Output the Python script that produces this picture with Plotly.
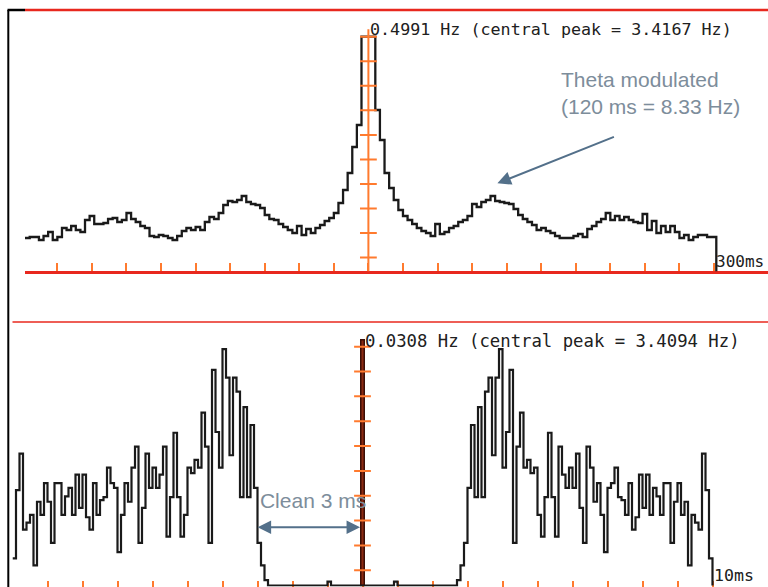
import plotly.graph_objects as go

W, H = 768, 587

# ---------------- data ----------------
# Top: autocorrelogram +-300 ms, 4 ms bins (bin centres in ms)
TOP_LAG_MS = list(range(-300, 301, 4))
TOP_RATE_HZ = [
    0.0734, 0.0734, 0.0755, 0.0755, 0.0692, 0.0776, 0.0861, 0.0692, 0.0755, 0.0945,
    0.0903, 0.0988, 0.0903, 0.0861, 0.1115, 0.1199, 0.1030, 0.1030, 0.1051, 0.1136,
    0.1157, 0.1072, 0.1115, 0.1263, 0.1136, 0.1072, 0.0988, 0.0945, 0.0776, 0.0755,
    0.0797, 0.0776, 0.0734, 0.0692, 0.0776, 0.0882, 0.0945, 0.0903, 0.0966, 0.0903,
    0.1072, 0.1178, 0.1136, 0.1263, 0.1432, 0.1516, 0.1495, 0.1537, 0.1622, 0.1495,
    0.1453, 0.1432, 0.1368, 0.1220, 0.1136, 0.1115, 0.1030, 0.0966, 0.0903, 0.0840,
    0.0988, 0.0797, 0.0924, 0.0840, 0.0945, 0.1009, 0.1093, 0.1157, 0.1263, 0.1474,
    0.1749, 0.2108, 0.2658, 0.3124, 0.4991,
    0.4991, 0.4991, 0.3441, 0.2806, 0.2108, 0.1791, 0.1537, 0.1326, 0.1199, 0.1115,
    0.1030, 0.0945, 0.0882, 0.0840, 0.0776, 0.1030, 0.0818, 0.0861, 0.0945, 0.0988,
    0.1072, 0.1115, 0.1199, 0.1453, 0.1389, 0.1495, 0.1537, 0.1622, 0.1516, 0.1495,
    0.1474, 0.1453, 0.1347, 0.1220, 0.1136, 0.1072, 0.1009, 0.0903, 0.0945, 0.0882,
    0.0840, 0.0776, 0.0734, 0.0734, 0.0734, 0.0776, 0.0818, 0.0755, 0.0924, 0.0988,
    0.1072, 0.1136, 0.1263, 0.1115, 0.1199, 0.1115, 0.1178, 0.1115, 0.1072, 0.1051,
    0.1241, 0.0903, 0.1093, 0.0840, 0.0988, 0.0861, 0.0988, 0.0861, 0.0734, 0.0797,
    0.0692, 0.0755, 0.0797, 0.0797, 0.0755, 0.0755,
]
TOP_BIN_MS = 4
TOP_MAX_HZ = 0.4991
TOP_PEAK_HZ = 3.4167
TOP_AXIS_TOP_HZ = 0.515

# Bottom: autocorrelogram +-10 ms, 0.1 ms bins (left bin edges)
BOT_BIN_MS = 0.1
BOT_START_MS = -10.0
BOT_RATE_HZ = (
    [0.0035, 0.0123, 0.0170, 0.0072, 0.0081, 0.0091, 0.0026, 0.0108, 0.0091, 0.0132,
     0.0108, 0.0055, 0.0132, 0.0132, 0.0091, 0.0115, 0.0126, 0.0091, 0.0143, 0.0100,
     0.0143, 0.0088, 0.0072, 0.0132, 0.0091, 0.0110, 0.0114, 0.0152, 0.0132, 0.0126,
     0.0043, 0.0091, 0.0132, 0.0108, 0.0152, 0.0179, 0.0055, 0.0100, 0.0170, 0.0126,
     0.0152, 0.0126, 0.0143, 0.0179, 0.0063, 0.0114, 0.0197, 0.0114, 0.0063, 0.0091,
     0.0152, 0.0145, 0.0162, 0.0152, 0.0223, 0.0179, 0.0055, 0.0278, 0.0198, 0.0152,
     0.0305, 0.0268, 0.0168, 0.0268, 0.0250, 0.0114, 0.0230, 0.0114, 0.0207, 0.0126,
     0.0055, 0.0026, 0.0007]
    + [0.0] * 17 + [0.0005] + [0.0] * 18 + [0.0005] + [0.0] * 17
    + [0.0007, 0.0026, 0.0055, 0.0126, 0.0207, 0.0114, 0.0230, 0.0114, 0.0250, 0.0268,
       0.0168, 0.0268, 0.0305, 0.0152, 0.0198, 0.0278, 0.0055, 0.0179, 0.0223, 0.0152,
       0.0162, 0.0145, 0.0152, 0.0091, 0.0063, 0.0114, 0.0197, 0.0114, 0.0063, 0.0179,
       0.0143, 0.0126, 0.0152, 0.0126, 0.0170, 0.0100, 0.0055, 0.0179, 0.0152, 0.0108,
       0.0132, 0.0091, 0.0043, 0.0126, 0.0132, 0.0152, 0.0114, 0.0110, 0.0091, 0.0132,
       0.0072, 0.0088, 0.0143, 0.0100, 0.0143, 0.0091, 0.0126, 0.0115, 0.0091, 0.0132,
       0.0132, 0.0055, 0.0108, 0.0132, 0.0091, 0.0108, 0.0026, 0.0091, 0.0081, 0.0072,
       0.0170, 0.0123, 0.0035]
)
BOT_MAX_HZ = 0.0308
BOT_PEAK_HZ = 3.4094
BOT_CENTRAL_DISPLAY_HZ = 0.0317

TOP_XTICKS_MS = [-270, -240, -210, -180, -150, -120, -90, -60, -30, 0,
                 30, 60, 90, 120, 150, 180, 210, 240, 270, 300]
BOT_XTICKS_MS = [-9, -8, -7, -6, -5, -4, -3, -2, -1, 0, 1, 2, 3, 4, 5, 6, 7, 8, 9, 10]
YTICK_FRACTIONS = [0.064, 0.168, 0.272, 0.376, 0.480, 0.584, 0.688, 0.792, 0.896, 1.0]

# ---------------- styles / geometry (pixels) ----------------
RED = "#e8281e"
ORANGE = "#ff7a2e"
TRACE = "#1a1a1a"
NOTE = "#7d8d9b"
ARROW = "#53708a"
MONO = "DejaVu Sans Mono"
SANS = "Liberation Sans"

T_CX, T_PXMS, T_Y0, T_PXHZ = 368.4, 1.152, 272.7, 236.0 / TOP_MAX_HZ
B_CX, B_PXMS, B_Y0, B_PXHZ = 362.5, 35.0, 585.5, 238.8 / BOT_MAX_HZ
T_LEFT, T_TOP = 25.0, 10.0
B_LEFT, B_TOP = 12.5, 322.0
T_AXIS_PAD = -1.5   # axis line drawn 1.5 px outside the domain edge
B_AXIS_PAD = 1.0


def px(xp):
    return xp / W


def py(yp):
    return 1 - yp / H


fig = go.Figure()

# ---- top histogram (step line) ----
half = TOP_BIN_MS / 2
tx = [c - half for c in TOP_LAG_MS] + [TOP_LAG_MS[-1] + half, TOP_LAG_MS[-1] + half]
ty = TOP_RATE_HZ + [TOP_RATE_HZ[-1], 0]
fig.add_trace(go.Scatter(x=tx, y=ty, mode="lines", line=dict(color=TRACE, width=2.3, shape="hv"),
                         xaxis="x", yaxis="y", hoverinfo="skip"))
# central axis (orange) with ticks
fig.add_trace(go.Scatter(x=[0, 0], y=[0, TOP_AXIS_TOP_HZ], mode="lines",
                         line=dict(color=ORANGE, width=2), xaxis="x", yaxis="y", hoverinfo="skip"))
fig.add_trace(go.Scatter(x=[0] * len(YTICK_FRACTIONS), y=[f * TOP_MAX_HZ for f in YTICK_FRACTIONS],
                         mode="markers", marker=dict(symbol="line-ew", size=12,
                                                     line=dict(color=ORANGE, width=2)),
                         xaxis="x", yaxis="y", hoverinfo="skip"))

# ---- bottom ----
bx0 = [BOT_START_MS + i * BOT_BIN_MS for i in range(len(BOT_RATE_HZ))]
bend = BOT_START_MS + len(BOT_RATE_HZ) * BOT_BIN_MS
fig.add_trace(go.Scatter(x=[-2.93], y=[0.0107], mode="text", text=["Clean 3 ms"],
                         textposition="middle right",
                         textfont=dict(family=SANS, size=21, color=NOTE),
                         xaxis="x2", yaxis="y2", hoverinfo="skip"))
fig.add_trace(go.Scatter(x=bx0 + [bend, bend], y=BOT_RATE_HZ + [BOT_RATE_HZ[-1], 0], mode="lines",
                         line=dict(color=TRACE, width=2.2, shape="hv"),
                         xaxis="x2", yaxis="y2", hoverinfo="skip"))
fig.add_trace(go.Bar(x=[0], y=[BOT_CENTRAL_DISPLAY_HZ], width=[BOT_BIN_MS],
                     marker=dict(color="#8a2a12", line=dict(color="#3c0e06", width=1.5)),
                     xaxis="x2", yaxis="y2", hoverinfo="skip"))
fig.add_trace(go.Scatter(x=[0] * len(YTICK_FRACTIONS), y=[f * BOT_MAX_HZ for f in YTICK_FRACTIONS],
                         mode="markers", marker=dict(symbol="line-ew", size=12,
                                                     line=dict(color=ORANGE, width=2)),
                         xaxis="x2", yaxis="y2", hoverinfo="skip"))

xcommon = dict(showline=True, linecolor=RED, linewidth=3, ticks="inside",
               tickwidth=1.5, tickcolor=ORANGE, showticklabels=False, showgrid=False,
               zeroline=False, layer="below traces", fixedrange=True)
ycommon = dict(visible=False, showgrid=False, zeroline=False, fixedrange=True)

fig.update_layout(
    width=W, height=H, margin=dict(l=0, r=0, t=0, b=0),
    paper_bgcolor="white", plot_bgcolor="white", showlegend=False,
    xaxis=dict(domain=[px(T_LEFT), 1], range=[(T_LEFT - T_CX) / T_PXMS, (W - T_CX) / T_PXMS],
               tickvals=TOP_XTICKS_MS, ticklen=8, anchor="y", **xcommon),
    yaxis=dict(domain=[py(T_Y0 + T_AXIS_PAD), py(T_TOP)],
               range=[-T_AXIS_PAD / T_PXHZ, (T_Y0 - T_TOP) / T_PXHZ], anchor="x", **ycommon),
    xaxis2=dict(domain=[px(B_LEFT), 1], range=[(B_LEFT - B_CX) / B_PXMS, (W - B_CX) / B_PXMS],
                tickvals=BOT_XTICKS_MS, ticklen=6, anchor="y2", **xcommon),
    yaxis2=dict(domain=[py(B_Y0 + B_AXIS_PAD), py(B_TOP)],
                range=[-B_AXIS_PAD / B_PXHZ, (B_Y0 - B_TOP) / B_PXHZ], anchor="x2", **ycommon),
    shapes=[
        dict(type="line", xref="paper", yref="paper", x0=px(T_LEFT), x1=1, y0=py(T_TOP), y1=py(T_TOP),
             line=dict(color=RED, width=2.5)),
        dict(type="line", xref="paper", yref="paper", x0=px(7.5), x1=px(T_LEFT), y0=py(T_TOP), y1=py(T_TOP),
             line=dict(color="black", width=2.5)),
        dict(type="line", xref="paper", yref="paper", x0=px(8.3), x1=px(8.3), y0=py(T_TOP), y1=0,
             line=dict(color="black", width=2)),
        dict(type="line", xref="paper", yref="paper", x0=px(B_LEFT), x1=1, y0=py(B_TOP), y1=py(B_TOP),
             line=dict(color=RED, width=1.5)),
    ],
    annotations=[
        dict(xref="x", yref="paper", x=0, y=py(29), xanchor="left", yanchor="middle", showarrow=False,
             text=f"{TOP_MAX_HZ:.4f} Hz (central peak = {TOP_PEAK_HZ:.4f} Hz)",
             font=dict(family=MONO, size=16.7, color="#202020")),
        dict(xref="x2", yref="paper", x=0, y=py(341), xanchor="left", yanchor="middle", showarrow=False,
             text=f"{BOT_MAX_HZ:.4f} Hz (central peak = {BOT_PEAK_HZ:.4f} Hz)",
             font=dict(family=MONO, size=17.3, color="#202020")),
        dict(xref="paper", yref="paper", x=px(714), y=py(261), xanchor="left", yanchor="middle",
             showarrow=False, text="300ms", font=dict(family=MONO, size=16, color="#202020")),
        dict(xref="paper", yref="paper", x=px(712), y=py(575), xanchor="left", yanchor="middle",
             showarrow=False, text="10ms", font=dict(family=MONO, size=16.6, color="#202020")),
        dict(xref="paper", yref="paper", x=px(559), y=py(93), xanchor="left", yanchor="middle",
             showarrow=False, align="left", text="Theta modulated<br>(120 ms = 8.33 Hz)",
             font=dict(family=SANS, size=21, color=NOTE)),
        dict(xref="x", yref="y", x=112, y=0.189, ax=118, ay=-47, text="", showarrow=True,
             arrowhead=2, arrowsize=1.35, arrowwidth=2, arrowcolor=ARROW),
        dict(xref="x2", yref="y2", x=-0.07, y=0.0075, axref="x2", ayref="y2", ax=-3.04, ay=0.0075,
             text="", showarrow=True, arrowhead=2, startarrowhead=2, arrowside="end+start",
             arrowsize=1.35, startarrowsize=1.35, arrowwidth=2, arrowcolor=ARROW),
    ],
)

fig.write_html("out.html", config={"displayModeBar": False})
